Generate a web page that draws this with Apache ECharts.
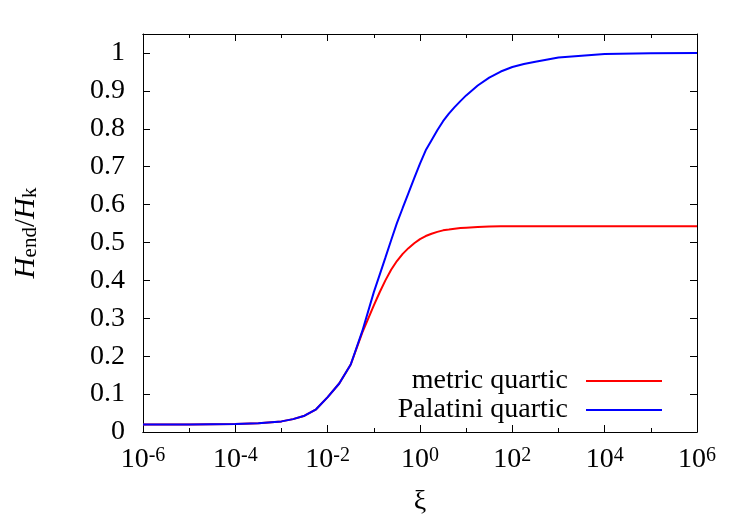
<!DOCTYPE html>
<html>

<head>
	<meta charset="UTF-8">
	<title>H_end/H_k vs xi</title>
	<script src="https://cdn.jsdelivr.net/npm/echarts@6/dist/echarts.min.js"></script>
	<style>
		html, body { margin: 0; padding: 0; background: #fff; }
		#container { width: 750px; height: 525px; }
	</style>
</head>

<body>
	<div id="container"></div>
	<script type="text/javascript">
		// xi sample points (log spaced)
		var xiValues = [1e-6, 1e-5, 1e-4, 3.16e-4, 1e-3, 1.78e-3, 3.16e-3, 5.62e-3, 1e-2, 1.78e-2, 3.16e-2, 5.62e-2,
			0.1, 0.133, 0.178, 0.237, 0.316, 0.422, 0.562, 0.750, 1, 1.33, 1.78, 2.37, 3.16, 4.22, 5.62, 7.50, 10,
			17.8, 31.6, 56.2, 100, 178, 316, 1000, 1e4, 1e5, 1e6];
		var metricQuartic = [0.020, 0.020, 0.021, 0.023, 0.028, 0.034, 0.043, 0.060, 0.092, 0.128, 0.178, 0.262,
			0.334, 0.368, 0.400, 0.428, 0.451, 0.470, 0.485, 0.498, 0.509, 0.517, 0.523, 0.528, 0.532, 0.534, 0.536, 0.538, 0.539,
			0.541, 0.542, 0.5425, 0.543, 0.543, 0.543, 0.543, 0.543, 0.543, 0.543];
		var palatiniQuartic = [0.020, 0.020, 0.021, 0.023, 0.028, 0.034, 0.043, 0.060, 0.092, 0.128, 0.178, 0.266,
			0.369, 0.414, 0.460, 0.506, 0.551, 0.591, 0.630, 0.670, 0.708, 0.743, 0.770, 0.796, 0.820, 0.840, 0.857, 0.873, 0.888,
			0.914, 0.935, 0.951, 0.963, 0.971, 0.977, 0.988, 0.997, 0.999, 1.000];
		var seriesNames = ['metric quartic', 'Palatini quartic'];
		var seriesColors = ['#ff0000', '#0000ff'];
		// decades that get a label on the x axis
		var xLabelExps = [-6, -4, -2, 0, 2, 4, 6];

		var font = 'Liberation Serif';

		function pairs(ys) {
			var out = [];
			for (var i = 0; i < xiValues.length; i++) {
				out.push([xiValues[i], ys[i]]);
			}
			return out;
		}

		function xLogAxis(pos, step, tickLen, withLabel) {
			return {
				type: 'log',
				logBase: 10,
				min: 1e-6,
				max: 1e6,
				interval: step,
				position: pos,
				axisLine: { show: true, lineStyle: { color: '#000', width: 1 } },
				axisTick: { show: true, inside: true, length: tickLen, lineStyle: { color: '#000', width: 1 } },
				splitLine: { show: false },
				axisLabel: {
					show: withLabel,
					margin: 14,
					color: '#000',
					fontFamily: font,
					formatter: function (v) {
						var e = Math.round(Math.log(v) / Math.LN10);
						if (xLabelExps.indexOf(e) < 0) return '';
						return '{b|10}{p|' + e + '}';
					},
					rich: {
						b: { fontFamily: font, fontSize: 28, lineHeight: 28, color: '#000', padding: [3, 0, 0, 0], verticalAlign: 'bottom' },
						p: { fontFamily: font, fontSize: 20, lineHeight: 20, color: '#000', verticalAlign: 'top' }
					}
				}
			};
		}

		function yLinAxis(pos, withLabel) {
			return {
				type: 'value',
				min: 0,
				max: 1.05,
				interval: 0.1,
				position: pos,
				axisLine: { show: true, lineStyle: { color: '#000', width: 1 } },
				axisTick: { show: true, inside: true, length: 7, lineStyle: { color: '#000', width: 1 } },
				splitLine: { show: false },
				axisLabel: {
					show: withLabel,
					margin: 18,
					color: '#000',
					fontFamily: font,
					fontSize: 28,
					formatter: function (v) {
						return v > 1.001 ? '' : String(Math.round(v * 10) / 10);
					}
				}
			};
		}

		var xMain = xLogAxis('bottom', 2, 7, true);
		xMain.name = 'ξ';
		xMain.nameLocation = 'middle';
		xMain.nameGap = 56;
		xMain.nameTextStyle = { fontFamily: font, fontSize: 28, color: '#000' };

		var yMain = yLinAxis('left', true);
		yMain.name = '{i|H}{s|end}{n|/}{i|H}{s|k}';
		yMain.nameLocation = 'middle';
		yMain.nameRotate = 90;
		yMain.nameGap = 102;
		yMain.nameTextStyle = {
			fontFamily: font,
			color: '#000',
			rich: {
				i: { fontFamily: font, fontStyle: 'italic', fontSize: 29, lineHeight: 29, color: '#000', verticalAlign: 'top' },
				n: { fontFamily: font, fontSize: 29, lineHeight: 29, color: '#000', verticalAlign: 'top' },
				s: { fontFamily: font, fontSize: 21, lineHeight: 21, color: '#000', padding: [12, 0, 0, 0], verticalAlign: 'bottom' }
			}
		};

		var myChart = echarts.init(document.getElementById('container'));
		var option = {
			backgroundColor: '#fff',
			animation: false,
			grid: {
				left: 143,
				right: 53,
				top: 34,
				bottom: 93,
				outerBoundsMode: 'none'
			},
			legend: {
				data: seriesNames,
				orient: 'vertical',
				align: 'right',
				right: 88,
				top: 367,
				padding: 0,
				itemGap: 1,
				itemWidth: 76,
				itemHeight: 2,
				icon: 'rect',
				textStyle: { fontFamily: font, fontSize: 28, lineHeight: 28, color: '#000', padding: [0, 13, 0, 0] }
			},
			xAxis: [
				xMain,
				xLogAxis('bottom', 1, 4, false),
				xLogAxis('top', 2, 7, false),
				xLogAxis('top', 1, 4, false)
			],
			yAxis: [
				yMain,
				yLinAxis('right', false)
			],
			series: [{
					name: seriesNames[0],
					type: 'line',
					showSymbol: false,
					symbol: 'none',
					lineStyle: { color: seriesColors[0], width: 2 },
					itemStyle: { color: seriesColors[0] },
					data: pairs(metricQuartic)
				},
				{
					name: seriesNames[1],
					type: 'line',
					showSymbol: false,
					symbol: 'none',
					lineStyle: { color: seriesColors[1], width: 2 },
					itemStyle: { color: seriesColors[1] },
					data: pairs(palatiniQuartic)
				}
			]
		};
		myChart.setOption(option);
	</script>
</body>

</html>
